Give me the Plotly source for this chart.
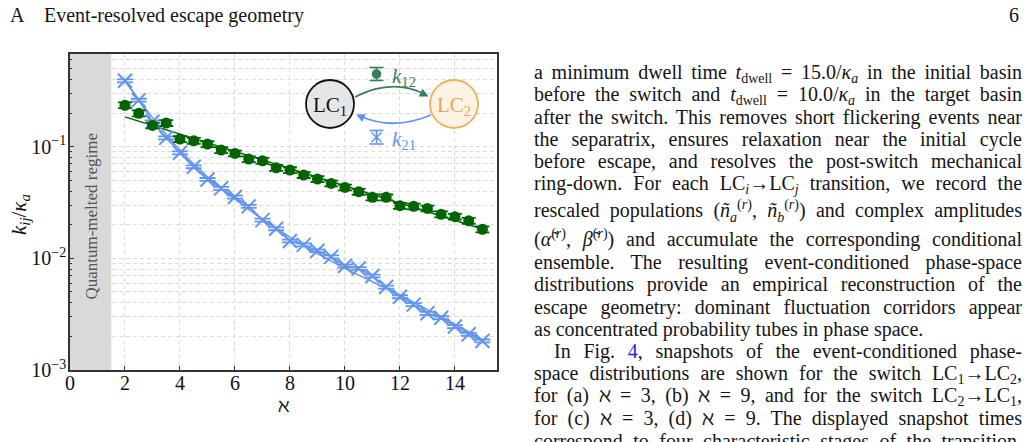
import json
import plotly.graph_objects as go

# ---------------- data ----------------
aleph = [2.0, 2.5, 3.0, 3.5, 4.0, 4.5, 5.0, 5.5, 6.0, 6.5, 7.0, 7.5, 8.0, 8.5,
         9.0, 9.5, 10.0, 10.5, 11.0, 11.5, 12.0, 12.5, 13.0, 13.5, 14.0, 14.5, 15.0]
k12 = [0.235, 0.199, 0.155, 0.163, 0.117, 0.113, 0.1055, 0.0932, 0.0871, 0.0774,
       0.0748, 0.0647, 0.0617, 0.0557, 0.0513, 0.0469, 0.0432, 0.0395, 0.0352,
       0.0352, 0.0296, 0.0292, 0.0280, 0.0248, 0.0236, 0.0217, 0.0182]
k12_err = [0.014, 0.012, 0.0093, 0.0098, 0.007, 0.0068, 0.0063, 0.0056, 0.0052,
           0.0046, 0.0045, 0.0039, 0.0037, 0.0033, 0.0031, 0.0028, 0.0026, 0.0024,
           0.0021, 0.0021, 0.0018, 0.0017, 0.0017, 0.0015, 0.0014, 0.0013, 0.0011]
k21 = [0.389, 0.261, 0.167, 0.120, 0.0881, 0.0661, 0.0509, 0.0424, 0.0354, 0.0292,
       0.0220, 0.0184, 0.0143, 0.0132, 0.0117, 0.0103, 0.00853, 0.00811, 0.00695,
       0.00553, 0.00453, 0.00385, 0.00322, 0.00294, 0.00245, 0.00209, 0.00182]
k21_err = [0.012, 0.0078, 0.005, 0.0036, 0.0026, 0.002, 0.0015, 0.0013, 0.0011,
           0.00088, 0.00066, 0.00055, 0.00043, 0.0004, 0.00035, 0.00031, 0.00026,
           0.00024, 0.00021, 0.00017, 0.00014, 0.00012, 0.0001, 0.000088, 0.000074,
           0.000063, 0.000055]
fit12_x = [2.0, 15.0]
fit12_y = [0.185, 0.0183]
fit21_x = [2, 3, 4, 5, 6, 7, 8, 9, 10, 11, 12, 13, 14, 15]
fit21_y = [0.389, 0.182, 0.0933, 0.0537, 0.0339, 0.0224, 0.0155, 0.0110,
           0.00813, 0.00617, 0.00468, 0.00347, 0.00257, 0.00186]
x_ticks = [0, 2, 4, 6, 8, 10, 12, 14]
y_decades = [1e-3, 1e-2, 1e-1]
y_decade_labels = ["10<sup>\u22123</sup>", "10<sup>\u22122</sup>", "10<sup>\u22121</sup>"]
melted_limit = 1.5

# ---------------- styling ----------------
SERIF = "Liberation Serif"
GREEN = "#006400"
GREEN2 = "#3a7d5a"
BLUE = "#6495ED"
ORANGE = "#EFB15F"
GRID = "#dcdcdc"
W, H = 1028, 442
PL, PR, PT, PB = 70, 497, 54, 370


def px(x):
    return (x - PL) / (PR - PL)


def py(y):
    return (PB - y) / (PB - PT)


# minor log ticks (2..9 of each decade)
yminor = []
for d in y_decades:
    for m in range(2, 10):
        if d * m <= 0.68:
            yminor.append(d * m)

fig = go.Figure()

fig.add_trace(go.Scatter(x=fit12_x, y=fit12_y, mode="lines",
                         line=dict(color=GREEN, width=1.5), showlegend=False))
fig.add_trace(go.Scatter(x=fit21_x, y=fit21_y, mode="lines",
                         line=dict(color=BLUE, width=1.5, shape="spline"),
                         showlegend=False))
fig.add_trace(go.Scatter(
    x=aleph, y=k21, mode="lines+markers",
    line=dict(color=BLUE, width=1.5),
    marker=dict(symbol="x-thin-open", size=14, color=BLUE,
                line=dict(color=BLUE, width=2)),
    error_y=dict(type="data", array=k21_err, color=BLUE, thickness=1.8, width=8),
    showlegend=False))
fig.add_trace(go.Scatter(
    x=aleph, y=k12, mode="markers",
    marker=dict(symbol="circle", size=11, color=GREEN),
    error_y=dict(type="data", array=k12_err, color=GREEN, thickness=1.8, width=7),
    showlegend=False))

shapes = []
annotations = []


def note(x, y, text, font, xanchor="center", yanchor="middle", **kw):
    d = dict(xref="paper", yref="paper", x=x, y=y, text=text, showarrow=False,
             xanchor=xanchor, yanchor=yanchor, font=font)
    d.update(kw)
    annotations.append(d)


# quantum-melted band
shapes.append(dict(type="rect", xref="x", yref="paper", x0=0, x1=melted_limit,
                   y0=0, y1=1, fillcolor="#d9d9d9", line=dict(width=0),
                   layer="below"))
annotations.append(dict(xref="x", yref="paper", x=melted_limit / 2, y=py(216),
                        xanchor="center", yanchor="middle",
                        text="Quantum-melted regime", textangle=-90,
                        showarrow=False,
                        font=dict(family=SERIF, size=17, color="#555555")))

# ---------------- inset diagram ----------------
R = 24
for cx, cy, fill, col, lab, tcol in [
        (330, 104, "#e6e6e6", "#111111", "LC<sub>1</sub>", "#111111"),
        (454, 104, "#fdf3e4", ORANGE, "LC<sub>2</sub>", "#E8A64F")]:
    shapes.append(dict(type="circle", xref="paper", yref="paper",
                       x0=px(cx - R), x1=px(cx + R), y0=py(cy + R), y1=py(cy - R),
                       fillcolor=fill, line=dict(color=col, width=1.8)))
    note(px(cx), py(cy + 2), lab, dict(family=SERIF, size=21, color=tcol))


def qpath(p0, c, p1):
    return "M {:.5f},{:.5f} Q {:.5f},{:.5f} {:.5f},{:.5f}".format(
        px(p0[0]), py(p0[1]), px(c[0]), py(c[1]), px(p1[0]), py(p1[1]))


shapes.append(dict(type="path", xref="paper", yref="paper",
                   path=qpath((355, 97), (392, 78), (424, 94)),
                   line=dict(color=GREEN2, width=1.8)))
shapes.append(dict(type="path", xref="paper", yref="paper",
                   path=qpath((431, 115), (393, 131), (360, 116)),
                   line=dict(color=BLUE, width=1.8)))
annotations.append(dict(xref="paper", yref="paper", x=px(428.5), y=py(96.5),
                        ax=-9, ay=-4.5, text="", showarrow=True, arrowhead=2,
                        arrowsize=1.1, arrowwidth=1.6, arrowcolor=GREEN2,
                        standoff=0))
annotations.append(dict(xref="paper", yref="paper", x=px(356), y=py(114.5),
                        ax=9, ay=4, text="", showarrow=True, arrowhead=2,
                        arrowsize=1.1, arrowwidth=1.6, arrowcolor=BLUE,
                        standoff=0))


def seg(x0, y0, x1, y1, col, w=1.6):
    shapes.append(dict(type="line", xref="paper", yref="paper",
                       x0=px(x0), y0=py(y0), x1=px(x1), y1=py(y1),
                       line=dict(color=col, width=w)))


# legend icons
lx = 376.5
seg(lx, 67.5, lx, 80.5, GREEN2)
seg(lx - 7, 67.5, lx + 7, 67.5, GREEN2)
seg(lx - 7, 80.5, lx + 7, 80.5, GREEN2)
shapes.append(dict(type="circle", xref="paper", yref="paper",
                   x0=px(lx - 4.8), x1=px(lx + 4.8), y0=py(74 + 4.8), y1=py(74 - 4.8),
                   fillcolor=GREEN2, line=dict(color=GREEN2, width=0)))
seg(lx, 130.5, lx, 144, BLUE)
seg(lx - 7, 130.5, lx + 7, 130.5, BLUE)
seg(lx - 7, 144, lx + 7, 144, BLUE)
seg(lx - 5, 132.5, lx + 5, 142, BLUE)
seg(lx - 5, 142, lx + 5, 132.5, BLUE)
note(px(390), py(77), "<i>k</i><sub>12</sub>",
     dict(family=SERIF, size=21, color=GREEN2), xanchor="left")
note(px(390), py(140), "<i>k</i><sub>21</sub>",
     dict(family=SERIF, size=21, color=BLUE), xanchor="left")

# axis titles
note(px(20), py(215),
     "<i>k</i><sub><i>ij</i></sub>/<i>\u03ba</i><sub><i>a</i></sub>",
     dict(family=SERIF, size=21, color="#111111"), textangle=-90)
note(px(284), py(405), "\u2135",
     dict(family="DejaVu Serif", size=19, color="#111111"))

# page header
TXT = dict(family=SERIF, size=20, color="#151515")
note(px(8), py(15), "A", TXT, xanchor="left")
note(px(42), py(15), "Event-resolved escape geometry", TXT, xanchor="left")
note(px(1021), py(15), "6", TXT, xanchor="right")

# body text (right column)
LINK = "<span style='color:#2323ee'>4</span>"
body = [
    ("a minimum dwell time <i>t</i><sub>dwell</sub> = 15.0/<i>\u03ba</i><sub><i>a</i></sub> in the initial basin", 73, 532, True),
    ("before the switch and <i>t</i><sub>dwell</sub> = 10.0/<i>\u03ba</i><sub><i>a</i></sub> in the target basin", 95.3, 532, True),
    ("after the switch. This removes short flickering events near", 117.5, 532, True),
    ("the separatrix, ensures relaxation near the initial cycle", 139.7, 532, True),
    ("before escape, and resolves the post-switch mechanical", 161.9, 532, True),
    ("ring-down. For each LC<sub><i>i</i></sub>\u2192LC<sub><i>j</i></sub> transition, we record the", 184.5, 532, True),
    ("rescaled populations (<i>\u00f1</i><sub><i>a</i></sub><sup>(<i>r</i>)</sup>, <i>\u00f1</i><sub><i>b</i></sub><sup>(<i>r</i>)</sup>) and complex amplitudes", 211, 532, True),
    ("(<i>\u03b1\u0303</i><sup>(<i>r</i>)</sup>, <i>\u03b2\u0303</i><sup>(<i>r</i>)</sup>) and accumulate the corresponding conditional", 238, 532, True),
    ("ensemble. The resulting event-conditioned phase-space", 262.5, 532, True),
    ("distributions provide an empirical reconstruction of the", 284.8, 532, True),
    ("escape geometry: dominant fluctuation corridors appear", 307, 532, True),
    ("as concentrated probability tubes in phase space.", 329.3, 532, False),
    ("In Fig. " + LINK + ", snapshots of the event-conditioned phase-", 351.6, 552, True),
    ("space distributions are shown for the switch LC<sub>1</sub>\u2192LC<sub>2</sub>,", 374, 532, True),
    ("for (a) \u2135 = 3, (b) \u2135 = 9, and for the switch LC<sub>2</sub>\u2192LC<sub>1</sub>,", 396.3, 532, True),
    ("for (c) \u2135 = 3, (d) \u2135 = 9. The displayed snapshot times", 418.5, 532, True),
    ("correspond to four characteristic stages of the transition.", 441, 532, True),
]
RIGHT = 1020
justify = {}
for text, yc, xs, jus in body:
    if jus:
        justify[str(len(annotations))] = RIGHT - xs
    note(px(xs), py(yc), text, TXT, xanchor="left", align="left")

axis_common = dict(showline=True, mirror=True, linecolor="#333333", linewidth=1.5,
                   ticks="inside", ticklen=4, tickcolor="#333333",
                   showgrid=True, gridcolor=GRID, griddash="4px,3px", gridwidth=1,
                   zeroline=False,
                   tickfont=dict(family=SERIF, size=20, color="#111111"))

fig.update_layout(
    width=W, height=H,
    margin=dict(l=PL, r=W - PR, t=PT, b=H - PB),
    paper_bgcolor="white", plot_bgcolor="white",
    showlegend=False,
    xaxis=dict(range=[0, 15.53], tickvals=x_ticks, ticklabelstandoff=-6,
               **axis_common),
    yaxis=dict(type="log", range=[-3, -0.17], tickvals=y_decades,
               ticktext=y_decade_labels, ticklabelstandoff=-2,
               minor=dict(tickvals=yminor, ticks="inside", ticklen=2,
                          tickcolor="#333333", showgrid=True,
                          gridcolor=GRID, griddash="4px,3px", gridwidth=1),
               **axis_common),
    shapes=shapes,
    annotations=annotations,
)

post = """
var gd = document.getElementById('{plot_id}');
var J = """ + json.dumps(justify) + """;
function just(){
  var gs = gd.querySelectorAll('g.annotation');
  gs.forEach(function(g){
    var i = g.getAttribute('data-index');
    if (J[i] === undefined) return;
    var t = g.querySelector('text.annotation-text');
    if (!t) return;
    t.style.wordSpacing = '0px';
    var w = t.getComputedTextLength();
    var n = (t.textContent.match(/ /g) || []).length;
    if (n > 0) t.style.wordSpacing = ((J[i] - w) / n) + 'px';
  });
}
just();
gd.on('plotly_afterplot', just);
"""

fig.write_html("out.html", post_script=post)
